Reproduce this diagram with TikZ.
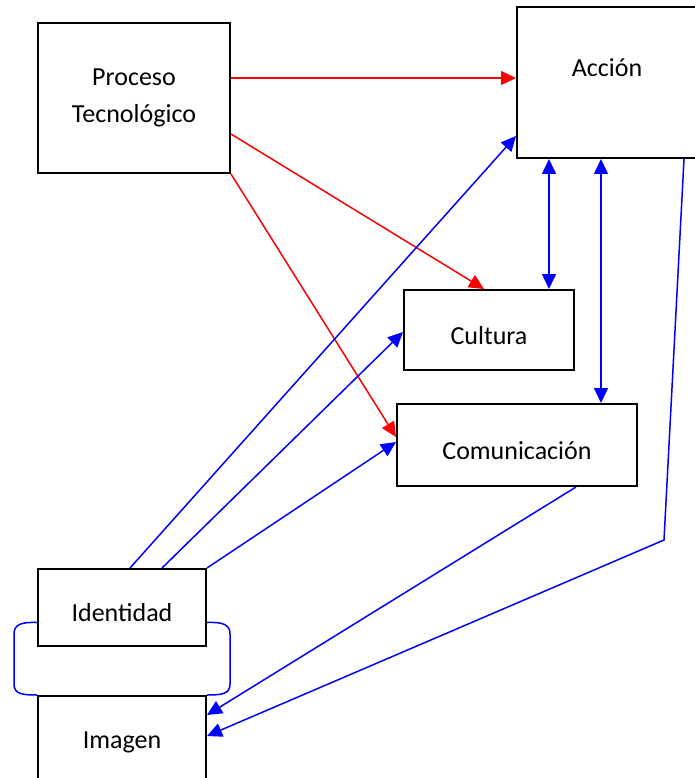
\documentclass[tikz,border=0pt]{standalone}
\usepackage{fontspec}
\setmainfont{Carlito}
\usetikzlibrary{arrows.meta}

\begin{document}
\begin{tikzpicture}[x=1pt,y=-1pt,
    every node/.style={font=\fontsize{26}{37}\selectfont},
    box/.style={draw=black,fill=white,line width=2pt,inner sep=0pt,align=center},
    onebox/.style={box,text height=28pt,text depth=0pt},
    redline/.style={draw=red,line width=1.5pt,-{Triangle[length=15pt,width=14pt]}},
    blueline/.style={draw=blue,line width=1.5pt,-{Triangle[length=15pt,width=14pt]}},
    bluepair/.style={draw=blue,line width=1.5pt,{Triangle[length=15pt,width=14pt]}-{Triangle[length=15pt,width=14pt]}},
    bracketline/.style={draw=blue,line width=1.5pt}]
    \path[use as bounding box,clip] (0,0) rectangle (695,778);
    \node[box,minimum width=192pt,minimum height=150pt] (proc) at (134,98) {Proceso\\Tecnológico};
    \node[box,minimum width=180pt,minimum height=151pt,label={[yshift=15pt]center:Acción}] (acc) at (607,82.5) {};
    \node[onebox,minimum width=170pt,minimum height=80pt] (cult) at (489,330) {Cultura};
    \node[onebox,minimum width=240pt,minimum height=82pt] (com) at (517,445) {Comunicación};
    \node[onebox,minimum width=168pt,minimum height=77pt] (iden) at (122,607.5) {Identidad};
    \node[box,minimum width=168pt,minimum height=92pt] (imag) at (122,742) {Imagen};
    \coordinate (bend) at (664,540);
    \draw[bracketline] ([yshift=-15pt]iden.west) .. controls (22,622) and (14,624) .. (14,634) -- (14,684) .. controls (14,694) and (22,695) .. (imag.north west);
    \draw[bracketline] ([yshift=-15pt]iden.east) .. controls (222,622) and (230,624) .. (230,634) -- (230,684) .. controls (230,694) and (222,695) .. (imag.north east);
    \draw[redline] ([yshift=20pt]proc.east) -- ([yshift=4.5pt]acc.west);
    \draw[redline] ([yshift=-36pt]proc.east) -- ([xshift=-5pt]cult.north);
    \draw[redline] (proc.south east) -- ([yshift=8pt]com.west);
    \draw[blueline] ([xshift=8pt]iden.north) -- ([yshift=-53.5pt]acc.west);
    \draw[blueline] ([xshift=40pt]iden.north) -- ([yshift=-2pt]cult.west);
    \draw[blueline] (iden.north east) -- ([yshift=3pt]com.west);
    \draw[bluepair] ([xshift=-58pt]acc.south) -- ([xshift=60pt]cult.north);
    \draw[bluepair] ([xshift=-6pt]acc.south) -- ([xshift=84pt]com.north);
    \draw[blueline] ([xshift=77pt]acc.south) -- (bend) -- ([yshift=6pt]imag.east);
    \draw[blueline] ([xshift=59pt]com.south) -- ([yshift=27pt]imag.east);
\end{tikzpicture}
\end{document}
